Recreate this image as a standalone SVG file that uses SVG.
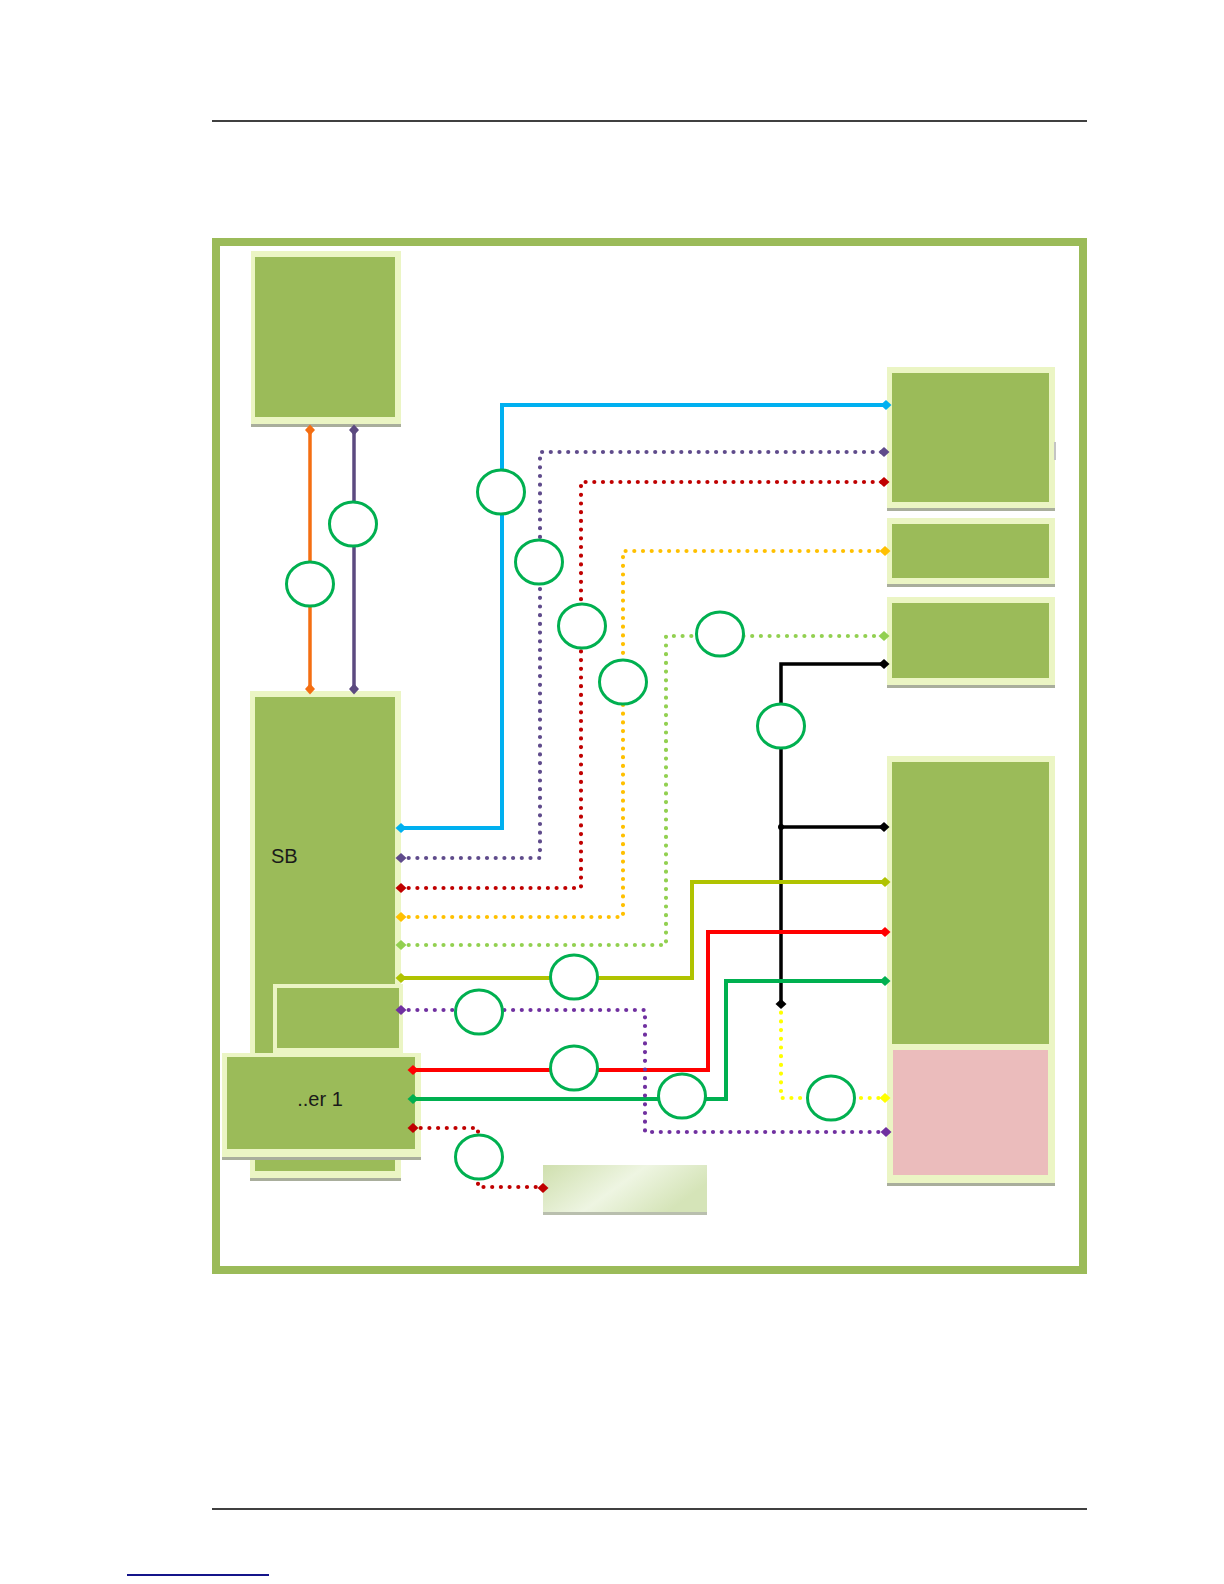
<svg xmlns="http://www.w3.org/2000/svg" xmlns:xlink="http://www.w3.org/1999/xlink" width="1224" height="1584" viewBox="0 0 1224 1584">
<style>
.outer{fill:#ebf5c4}
.inner{fill:#9bbb59}
.shadow{fill:#a9ae9c}
.c{fill:#fff;stroke:#00b050;stroke-width:3}
.ln{fill:none;stroke-linejoin:miter}
.sol{stroke-width:4}
.dot{stroke-width:4.2;stroke-dasharray:0 8.7;stroke-linecap:round}
.lbl{font-family:"Liberation Sans",Arial,sans-serif;font-size:20px;fill:#1a1a1a}
</style>
<defs>
<path id="dm" d="M-5.5,0 L0,-5 L5.5,0 L0,5 Z"/>
<linearGradient id="gb" x1="0" y1="0" x2="1" y2="0.4">
<stop offset="0" stop-color="#cfdfae"/>
<stop offset="0.55" stop-color="#eef5e2"/>
<stop offset="1" stop-color="#d5e4b8"/>
</linearGradient>
</defs>
<rect width="1224" height="1584" fill="#fff"/>
<g id="page-lines">
<path d="M212,121 H1087" stroke="#000" stroke-width="1.5"/>
<path d="M212,1509 H1087" stroke="#000" stroke-width="1.5"/>
<path d="M127,1575 H269" stroke="#14148a" stroke-width="2"/>
</g>
<rect id="frame" x="216" y="242" width="867" height="1028" fill="none" stroke="#9bbb59" stroke-width="8"/>
<g id="box-top-left">
<rect class="shadow" x="251" y="421" width="150" height="6"/>
<rect class="outer" x="251" y="251" width="150" height="173"/>
<rect class="inner" x="255" y="257" width="140" height="160"/>
</g>
<g id="box-sb">
<rect class="shadow" x="250" y="1175" width="151" height="6"/>
<rect class="outer" x="250" y="691" width="151" height="487"/>
<rect class="inner" x="255" y="697" width="140" height="474"/>
<text class="lbl" x="271" y="863">SB</text>
</g>
<g id="box-small">
<rect class="shadow" x="273" y="1050" width="130" height="6"/>
<rect class="outer" x="273" y="984" width="130" height="69"/>
<rect class="inner" x="277" y="988" width="122" height="60"/>
</g>
<g id="box-er1">
<rect class="shadow" x="222" y="1154" width="199" height="6"/>
<rect class="outer" x="222" y="1053" width="199" height="104"/>
<rect class="inner" x="227" y="1057" width="188" height="92"/>
<text class="lbl" x="320" y="1106" text-anchor="middle">..er 1</text>
</g>
<g id="box-r1">
<rect class="shadow" x="887" y="505" width="168" height="6"/>
<rect class="outer" x="887" y="367" width="168" height="141"/>
<rect class="inner" x="892" y="373" width="157" height="129"/>
<rect x="1054" y="442" width="2" height="18" fill="#c4c4c4"/>
</g>
<g id="box-r2">
<rect class="shadow" x="887" y="581" width="168" height="6"/>
<rect class="outer" x="887" y="518" width="168" height="66"/>
<rect class="inner" x="892" y="524" width="157" height="54"/>
</g>
<g id="box-r3">
<rect class="shadow" x="887" y="682" width="168" height="6"/>
<rect class="outer" x="887" y="597" width="168" height="88"/>
<rect class="inner" x="892" y="603" width="157" height="75"/>
</g>
<g id="box-r4">
<rect class="shadow" x="887" y="1180" width="168" height="6"/>
<rect class="outer" x="887" y="756" width="168" height="427"/>
<rect class="inner" x="892" y="762" width="157" height="282"/>
<rect x="893" y="1050" width="155" height="125" fill="#ebbcbc"/>
</g>
<g id="box-bottom">
<rect x="543" y="1168" width="164" height="47" fill="#b9bfae"/>
<rect x="543" y="1165" width="164" height="47" fill="url(#gb)"/>
</g>
<g id="connectors">
<path class="ln" d="M310,430 V689" stroke="#f46e12" stroke-width="3.5"/>
<path class="ln" d="M354,430 V689" stroke="#5c4a80" stroke-width="3.5"/>
<path class="ln sol" d="M400,828 H502 V405 H888" stroke="#00b0f0"/>
<path class="ln dot" d="M400,858 H540 V452 H885" stroke="#5f4b8b"/>
<path class="ln dot" d="M400,888 H581 V482 H885" stroke="#c00000"/>
<path class="ln dot" d="M400,917 H623 V551 H886" stroke="#ffc000"/>
<path class="ln dot" d="M400,945 H666 V636 H885" stroke="#92d050"/>
<path class="ln" d="M885,664 H781 V1004 M781,827 H885" stroke="#000" stroke-width="3.5"/>
<path class="ln sol" d="M400,978 H692 V882 H886" stroke="#b0c300"/>
<path class="ln sol" d="M412,1070 H708 V932 H886" stroke="#ff0000"/>
<path class="ln sol" d="M412,1099 H726 V981 H886" stroke="#00b050"/>
<path class="ln dot" d="M400,1010 H645 V1132 H886" stroke="#7030a0"/>
<path class="ln dot" d="M781,1004 V1098 H886" stroke="#ffff00"/>
<path class="ln dot" d="M412,1128 H478 V1187 H543" stroke="#c00000"/>
<g id="ends">
<use xlink:href="#dm" transform="translate(310,430) rotate(90)" fill="#f46e12"/>
<use xlink:href="#dm" transform="translate(310,689) rotate(90)" fill="#f46e12"/>
<use xlink:href="#dm" transform="translate(354,430) rotate(90)" fill="#5c4a80"/>
<use xlink:href="#dm" transform="translate(354,689) rotate(90)" fill="#5c4a80"/>
<use xlink:href="#dm" x="401" y="828" fill="#00b0f0"/>
<use xlink:href="#dm" x="886" y="405" fill="#00b0f0"/>
<use xlink:href="#dm" x="401" y="858" fill="#5f4b8b"/>
<use xlink:href="#dm" x="884" y="452" fill="#5f4b8b"/>
<use xlink:href="#dm" x="401" y="888" fill="#c00000"/>
<use xlink:href="#dm" x="884" y="482" fill="#c00000"/>
<use xlink:href="#dm" x="401" y="917" fill="#ffc000"/>
<use xlink:href="#dm" x="885" y="551" fill="#ffc000"/>
<use xlink:href="#dm" x="401" y="945" fill="#92d050"/>
<use xlink:href="#dm" x="884" y="636" fill="#92d050"/>
<use xlink:href="#dm" x="884" y="664" fill="#000"/>
<use xlink:href="#dm" x="884" y="827" fill="#000"/>
<use xlink:href="#dm" x="781" y="1004" fill="#000"/>
<circle cx="781" cy="827" r="3" fill="#000"/>
<use xlink:href="#dm" x="401" y="978" fill="#b0c300"/>
<use xlink:href="#dm" x="885" y="882" fill="#b0c300"/>
<use xlink:href="#dm" x="413" y="1070" fill="#ff0000"/>
<use xlink:href="#dm" x="885" y="932" fill="#ff0000"/>
<use xlink:href="#dm" x="413" y="1099" fill="#00b050"/>
<use xlink:href="#dm" x="885" y="981" fill="#00b050"/>
<use xlink:href="#dm" x="401" y="1010" fill="#7030a0"/>
<use xlink:href="#dm" x="886" y="1132" fill="#7030a0"/>
<use xlink:href="#dm" x="885" y="1098" fill="#ffff00"/>
<use xlink:href="#dm" x="413" y="1128" fill="#c00000"/>
<use xlink:href="#dm" x="543" y="1188" fill="#c00000"/>
</g>
</g>
<g id="circles">
<ellipse class="c" cx="310" cy="584" rx="23.5" ry="22"/>
<ellipse class="c" cx="353" cy="524" rx="23.5" ry="22"/>
<ellipse class="c" cx="501" cy="492" rx="23.5" ry="22"/>
<ellipse class="c" cx="539" cy="562" rx="23.5" ry="22"/>
<ellipse class="c" cx="582" cy="626" rx="23.5" ry="22"/>
<ellipse class="c" cx="623" cy="682" rx="23.5" ry="22"/>
<ellipse class="c" cx="720" cy="634" rx="23.5" ry="22"/>
<ellipse class="c" cx="781" cy="726" rx="23.5" ry="22"/>
<ellipse class="c" cx="574" cy="977" rx="23.5" ry="22"/>
<ellipse class="c" cx="479" cy="1012" rx="23.5" ry="22"/>
<ellipse class="c" cx="574" cy="1068" rx="23.5" ry="22"/>
<ellipse class="c" cx="682" cy="1096" rx="23.5" ry="22"/>
<ellipse class="c" cx="831" cy="1098" rx="23.5" ry="22"/>
<ellipse class="c" cx="479" cy="1157" rx="23.5" ry="22"/>
</g>
</svg>
